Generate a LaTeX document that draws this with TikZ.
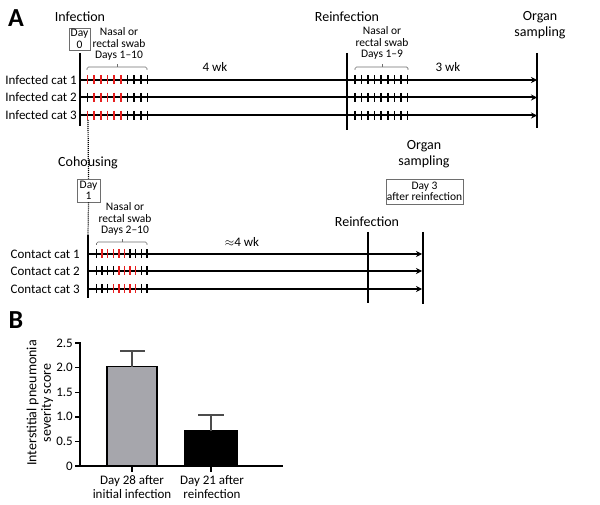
\documentclass[tikz,border=0pt]{standalone}
\usepackage{fontspec}
\setmainfont{Carlito}
\usetikzlibrary{arrows.meta}
\definecolor{tickred}{RGB}{230,30,30}
\definecolor{bargray}{RGB}{166,166,172}
\definecolor{boxgray}{RGB}{110,110,110}
\newcommand\mytickrow[5]{% y, x0, dx, n, red list
  \foreach \i in {1,...,#4}{\draw[tk] ({#2+(\i-1)*#3},{#1-4.5}) -- ({#2+(\i-1)*#3},{#1+4.5});}
  \foreach \i in {#5}{\draw[tk,tickred] ({#2+(\i-1)*#3},{#1-4.5}) -- ({#2+(\i-1)*#3},{#1+4.5});}
}
\newcommand\myblackrow[4]{%
  \foreach \i in {1,...,#4}{\draw[tk] ({#2+(\i-1)*#3},{#1-4.5}) -- ({#2+(\i-1)*#3},{#1+4.5});}
}
\begin{document}
\begin{tikzpicture}[x=1pt,y=-1pt,
  big/.style={font=\fontsize{26}{26}\selectfont\bfseries, inner sep=0pt},
  ttl/.style={font=\fontsize{14}{15.5}\selectfont, inner sep=0pt, align=center},
  lbl/.style={font=\fontsize{13}{13}\selectfont, inner sep=0pt},
  sm/.style={font=\fontsize{11.5}{11.5}\selectfont, inner sep=0pt, align=center},
  daybox/.style={draw=boxgray, line width=0.7pt, font=\fontsize{11.5}{11.5}\selectfont, align=center, inner sep=1pt},
  tline/.style={line width=2pt, -{Stealth[length=6pt,width=6pt]}},
  vline/.style={line width=2pt},
  tk/.style={line width=1.5pt},
  brk/.style={draw=boxgray, line width=0.7pt, rounded corners=1.5pt},
  dotl/.style={line width=1.2pt, dash pattern=on 1pt off 1pt},
  axis/.style={line width=1.8pt},
  ebar/.style={line width=1.5pt, draw=black!70},
]
\useasboundingbox (0,0) rectangle (600,505);

% ---------------- Panel A: infected cats ----------------
\node[big] (A) at (16,18) {A};
\node[ttl] (inf) at (80,17) {Infection};
\node[ttl] (reinf) at (347,17) {Reinfection};
\node[ttl] (organ1) at (540,25) {Organ\\sampling};
\node[daybox, minimum width=21pt, minimum height=22pt] (day0) at (79.5,39) {Day\\0};
\node[sm] (swab1) at (119,44) {Nasal or\\rectal swab\\Days 1--10};
\node[sm] (swab2) at (382,43) {Nasal or\\rectal swab\\Days 1--9};
\node[lbl] (wk4) at (215,67) {4 wk};
\node[lbl] (wk3) at (448,67) {3 wk};

% brackets
\draw[brk] (87,70) -- (87,67) -- (147,67) -- (147,70);
\draw[boxgray, line width=0.7pt] (117,67) -- (117,64);
\draw[brk] (355,70) -- (355,67) -- (408,67) -- (408,70);
\draw[boxgray, line width=0.7pt] (382,67) -- (382,64);

% vertical lines
\coordinate (v0t) at (80,53); \coordinate (v0b) at (80,126);
\coordinate (v1t) at (347,53); \coordinate (v1b) at (347,130);
\coordinate (v2t) at (537,53); \coordinate (v2b) at (537,128);
\draw[vline] (v0t) -- (v0b);
\draw[vline] (v1t) -- (v1b);
\draw[vline] (v2t) -- (v2b);

% infected rows
\foreach \n/\y in {1/80,2/97.5,3/115.5}{
  \node[lbl, anchor=east] (ic\n) at (77,\y) {Infected cat \n};
  \coordinate (is\n) at (79,\y);
  \coordinate (ie\n) at (537,\y);
  \draw[tline] (is\n) -- (ie\n);
}
\mytickrow{80}{87.5}{6.67}{10}{1,...,6}
\mytickrow{97.5}{87.5}{6.67}{10}{2,...,6}
\mytickrow{115.5}{87.5}{6.67}{10}{1,...,6}
\myblackrow{80}{355}{6.55}{9}
\myblackrow{97.5}{355}{6.55}{9}
\myblackrow{115.5}{355}{6.55}{9}

% ---------------- Panel A: contact cats ----------------
\node[ttl] (coh) at (88,163) {Cohousing};
\node[daybox, minimum width=23pt, minimum height=23pt] (day1) at (88.5,190.5) {Day\\1};
\node[sm] (swab3) at (125,219) {Nasal or\\rectal swab\\Days 2--10};
\node[lbl] (wk4b) at (242,242) {$\approx$4 wk};
\node[ttl] (reinf2) at (367,222) {Reinfection};
\node[ttl] (organ2) at (424,154) {Organ\\sampling};
\node[daybox, minimum width=75pt, minimum height=25pt] (day3) at (424.5,191.5) {Day 3\\after reinfection};

\coordinate (dtop) at (88,120);
\draw[dotl] (dtop) -- (day1.north);
\coordinate (cvt) at (88,235);
\coordinate (cvb) at (88,298);
\draw[dotl] (day1.south) -- (cvt);
\draw[vline] (cvt) -- (cvb);

\draw[brk] (96.5,245) -- (96.5,242) -- (147,242) -- (147,245);
\draw[boxgray, line width=0.7pt] (122,242) -- (122,239);

\coordinate (r2t) at (368,232); \coordinate (r2b) at (368,303);
\coordinate (o2t) at (422.5,232); \coordinate (o2b) at (422.5,304);
\draw[vline] (r2t) -- (r2b);
\draw[vline] (o2t) -- (o2b);

\foreach \n/\y in {1/254,2/271,3/289}{
  \node[lbl, anchor=east] (cc\n) at (80,\y) {Contact cat \n};
  \coordinate (cs\n) at (87,\y);
  \coordinate (ce\n) at (422,\y);
  \draw[tline] (cs\n) -- (ce\n);
}
\mytickrow{254}{96.5}{5.6}{10}{2,...,6}
\mytickrow{271}{96.5}{5.6}{10}{5,...,8}
\mytickrow{289}{96.5}{5.6}{10}{4,...,8}

% ---------------- Panel B ----------------
\node[big] (B) at (16,320) {B};
\node[font=\fontsize{14}{14.5}\selectfont, align=center, inner sep=0pt, rotate=90] (ylab) at (40,403) {Interstitial pneumonia\\severity score};

\foreach \v/\t in {0/0,0.5/0.5,1/1.0,1.5/1.5,2/2.0,2.5/2.5}{
  \draw[line width=1.4pt] (75,{466-\v*49.2}) -- (80,{466-\v*49.2});
  \node[lbl, anchor=east] at (73,{466-\v*49.2}) {\t};
}

% bars
\draw[line width=1.5pt, fill=bargray] (107,466) rectangle (157,366.6);
\draw[line width=1.5pt, fill=black] (185,466) rectangle (237,431);
% error bars
\draw[ebar] (132,366.6) -- (132,351);
\draw[ebar] (120,351) -- (145,351);
\draw[ebar] (211,431) -- (211,415);
\draw[ebar] (198,415) -- (224,415);

% axes
\draw[axis] (80,342) -- (80,467);
\draw[axis] (79,466) -- (283,466);
\draw[line width=1.5pt] (132,466) -- (132,472);
\draw[line width=1.5pt] (211,466) -- (211,472);

\node[lbl, align=center, font=\fontsize{13}{14.5}\selectfont] (xl1) at (132,487) {Day 28 after\\initial infection};
\node[lbl, align=center, font=\fontsize{13}{14.5}\selectfont] (xl2) at (212,487) {Day 21 after\\reinfection};
\end{tikzpicture}
\end{document}
